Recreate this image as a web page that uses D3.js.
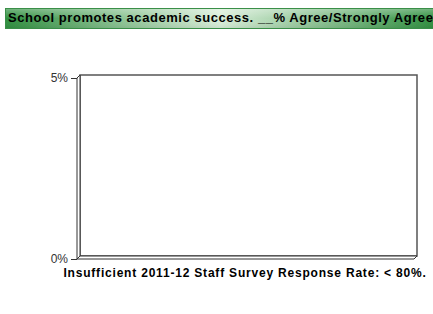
<!DOCTYPE html>
<html><head><meta charset="utf-8">
<script src="https://cdn.jsdelivr.net/npm/d3@7/dist/d3.min.js"></script>
<style>body{margin:0;background:#fff}svg{display:block}text{font-family:"Liberation Sans",Arial,sans-serif}</style>
</head><body>
<script>
const titleText = "School promotes academic success. __% Agree/Strongly Agree";
const noteText = "Insufficient 2011-12 Staff Survey Response Rate: < 80%.";
const categories = [];
const values = [];
const yDomain = [0, 5];
const yTicks = [0, 5];

(function(){
const W = 433, H = 314;
const svg = d3.select("body").append("svg").attr("width", W).attr("height", H);
const defs = svg.append("defs");
const g1 = defs.append("linearGradient").attr("id","tg").attr("x1","0").attr("x2","1").attr("y1","0").attr("y2","0");
g1.append("stop").attr("offset","0").attr("stop-color","#2f8f3f");
g1.append("stop").attr("offset","0.5").attr("stop-color","#d9eed9");
g1.append("stop").attr("offset","1").attr("stop-color","#2f8f3f");
const g2 = defs.append("linearGradient").attr("id","tv").attr("x1","0").attr("x2","0").attr("y1","0").attr("y2","1");
g2.append("stop").attr("offset","0").attr("stop-color","#fff").attr("stop-opacity",0.35);
g2.append("stop").attr("offset","0.5").attr("stop-color","#fff").attr("stop-opacity",0);
g2.append("stop").attr("offset","1").attr("stop-color","#000").attr("stop-opacity",0.08);

// title bar
svg.append("rect").attr("x",5).attr("y",8).attr("width",430).attr("height",21).attr("fill","url(#tg)");
svg.append("rect").attr("x",5).attr("y",8).attr("width",430).attr("height",21).attr("fill","url(#tv)");
svg.append("rect").attr("x",5.5).attr("y",8.5).attr("width",430).attr("height",20).attr("fill","none").attr("stroke","#3a8f48").attr("stroke-width",1);
svg.append("text").attr("x",8).attr("y",21.5).attr("font-size",13).attr("letter-spacing",0.55)
  .attr("font-weight","bold").attr("fill","#000").text(titleText);

const d = 3;
const pl = 77, pr = 414, pt = 78, pb = 259;
const x = d3.scaleBand().domain(categories).range([pl, pr]);
const y = d3.scaleLinear().domain(yDomain).range([pb, pt]);

// walls
svg.append("rect").attr("x",pl+d).attr("y",pt-d).attr("width",pr-pl).attr("height",pb-pt)
  .attr("fill","#fff").attr("stroke","#555").attr("stroke-width",1.5);
svg.append("path").attr("d",`M${pl},${pt}L${pl+d},${pt-d}L${pl+d},${pb-d}L${pl},${pb}Z`)
  .attr("fill","#fff").attr("stroke","#333").attr("stroke-width",1);
svg.append("path").attr("d",`M${pl},${pb}L${pl+d},${pb-d}L${pr+d},${pb-d}L${pr},${pb}Z`)
  .attr("fill","#fff").attr("stroke","#333").attr("stroke-width",1);

// bars (none: insufficient data)
svg.append("g").selectAll("rect").data(values).join("rect")
  .attr("x",(v,i)=>x(categories[i])).attr("width",x.bandwidth())
  .attr("y",v=>y(v)).attr("height",v=>pb-y(v)).attr("fill","#2f8f3f");

// axis
const ax = svg.append("g").attr("transform",`translate(${pl},0)`)
  .call(d3.axisLeft(y).tickValues(yTicks).tickFormat(v=>v+"%").tickSize(6).tickPadding(3));
ax.select(".domain").remove();
ax.selectAll("line").attr("stroke","#333");
ax.selectAll("text").attr("font-size",12).attr("fill","#333").attr("font-family","Liberation Sans, Arial, sans-serif");

svg.append("text").attr("x",245).attr("y",276.5).attr("text-anchor","middle").attr("font-size",12)
  .attr("letter-spacing",0.8).attr("font-weight","bold").attr("fill","#000").text(noteText);
})();
</script>
</body></html>
